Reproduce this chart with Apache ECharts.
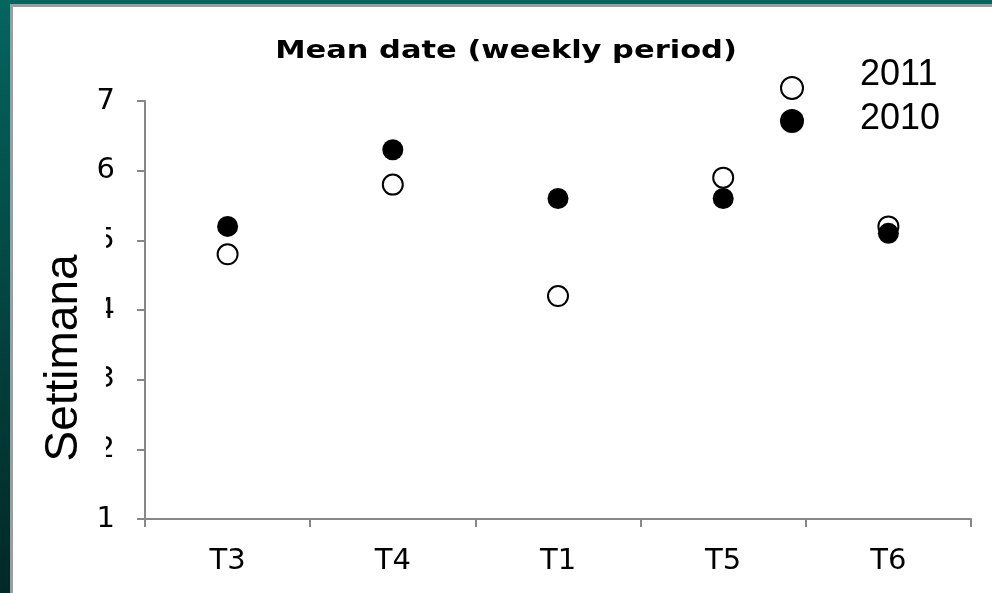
<!DOCTYPE html>
<html>
<head>
<meta charset="utf-8">
<script src="https://cdn.jsdelivr.net/npm/echarts@6/dist/echarts.min.js"></script>
<style>
  html, body { margin: 0; padding: 0; }
  body {
    width: 992px; height: 593px; overflow: hidden; position: relative;
    background: linear-gradient(180deg, #04655f 0%, #02423f 55%, #012826 100%);
  }
  #panel {
    position: absolute; left: 10px; top: 4px; width: 990px; height: 600px;
    border-left: 3px solid #9d9d9d; border-top: 3px solid #9d9d9d;
    background: #ffffff;
  }
  #chart { position: absolute; left: 0; top: 0; width: 992px; height: 593px; }
</style>
</head>
<body>
<div id="panel"></div>
<div id="chart"></div>
<script>
// Sites along the x axis and mean week of each year's sampling
const categories = ['T3', 'T4', 'T1', 'T5', 'T6'];
const values2011 = [4.8, 5.8, 4.2, 5.9, 5.2];
const values2010 = [5.2, 6.3, 5.6, 5.6, 5.1];
const yMin = 1;
const yMax = 7;
const yStep = 1;
const seriesNames = ['2011', '2010'];
const titleText = 'Mean date (weekly period)';
const yAxisTitle = 'Settimana';

const axisGrey = '#888888';

const chart = echarts.init(document.getElementById('chart'), null, { renderer: 'canvas' });

chart.setOption({
  backgroundColor: 'transparent',
  animation: false,
  grid: { left: 145, right: 21, top: 101, bottom: 74 },
  xAxis: {
    type: 'category',
    data: categories,
    boundaryGap: true,
    axisLine: { lineStyle: { color: axisGrey, width: 2 } },
    axisTick: { show: true, length: 8, inside: false, lineStyle: { color: axisGrey, width: 2 } },
    axisLabel: { color: '#000', fontFamily: 'DejaVu Sans', fontSize: 29, margin: 28 },
    splitLine: { show: false }
  },
  yAxis: {
    type: 'value',
    min: yMin,
    max: yMax,
    interval: yStep,
    axisLine: { show: true, lineStyle: { color: axisGrey, width: 2 } },
    axisTick: { show: true, length: 8, lineStyle: { color: axisGrey, width: 2 } },
    axisLabel: { color: '#000', fontFamily: 'DejaVu Sans', fontSize: 29, margin: 30 },
    splitLine: { show: false }
  },
  series: [
    {
      name: seriesNames[0],
      type: 'scatter',
      data: values2011,
      symbol: 'circle',
      symbolSize: 20,
      itemStyle: { color: '#ffffff', borderColor: '#000000', borderWidth: 2, opacity: 1 },
      emphasis: { disabled: true }
    },
    {
      name: seriesNames[1],
      type: 'scatter',
      data: values2010,
      symbol: 'circle',
      symbolSize: 21,
      itemStyle: { color: '#000000', opacity: 1 },
      emphasis: { disabled: true }
    }
  ],
  graphic: [
    {
      type: 'text',
      x: 506, y: 51,
      scaleX: 1.22,
      style: {
        text: titleText,
        fontFamily: 'DejaVu Sans', fontWeight: 'bold', fontSize: 25,
        fill: '#000', align: 'center', verticalAlign: 'middle'
      }
    },
    // y-axis title sits in a white box that overlaps the tick labels
    {
      type: 'rect',
      z: 100,
      shape: { x: 22, y: 222, width: 84, height: 262 },
      style: { fill: '#ffffff' }
    },
    {
      type: 'text',
      z: 101,
      x: 64, y: 358,
      rotation: Math.PI / 2,
      style: {
        text: yAxisTitle, fontFamily: 'Liberation Sans', fontSize: 46,
        fill: '#000', align: 'center', verticalAlign: 'middle'
      }
    },
    // key: open circle for 2011, filled circle for 2010
    {
      type: 'circle',
      shape: { cx: 792, cy: 88, r: 11 },
      style: { fill: '#ffffff', stroke: '#000000', lineWidth: 2 }
    },
    {
      type: 'circle',
      shape: { cx: 792, cy: 121, r: 12 },
      style: { fill: '#000000' }
    },
    {
      type: 'text',
      x: 860, y: 75,
      style: {
        text: seriesNames[0], fontFamily: 'Liberation Sans', fontSize: 36,
        fill: '#000', align: 'left', verticalAlign: 'middle'
      }
    },
    {
      type: 'text',
      x: 860, y: 119,
      style: {
        text: seriesNames[1], fontFamily: 'Liberation Sans', fontSize: 36,
        fill: '#000', align: 'left', verticalAlign: 'middle'
      }
    }
  ]
});
</script>
</body>
</html>
